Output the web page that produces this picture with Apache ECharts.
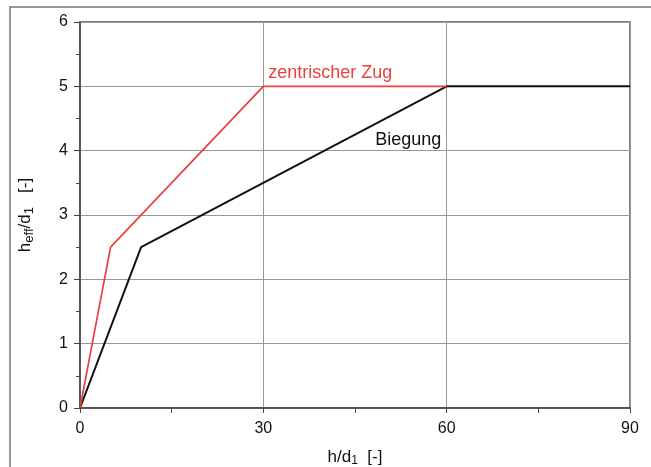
<!DOCTYPE html>
<html><head><meta charset="utf-8">
<script src="https://cdn.jsdelivr.net/npm/echarts@6/dist/echarts.min.js"></script>
<style>html,body{margin:0;padding:0;background:#fff}#c{width:651px;height:467px}</style>
</head><body><div id="c"></div>
<script>
var xTicks = [0, 30, 60, 90];
var yTicks = [0, 1, 2, 3, 4, 5, 6];
var zentrischX = [0, 5, 30, 60];
var zentrischY = [0, 2.5, 5, 5];
var biegungX = [0, 10, 60, 90];
var biegungY = [0, 2.5, 5, 5];
var labelZug = {name: 'zentrischer Zug', x: 30.8, y: 5.2};
var labelBieg = {name: 'Biegung', x: 48.3, y: 4.17};

function pairs(xs, ys){ return xs.map(function(v,i){return [v, ys[i]];}); }

var chart = echarts.init(document.getElementById('c'), null, {renderer:'canvas'});
var font = 'Liberation Sans, Arial, sans-serif';
chart.setOption({
  animation:false,
  graphic:[{type:'polyline', shape:{points:[[10,467],[10,7],[651,7]]}, style:{stroke:'#777', lineWidth:1.5, fill:null}}],
  grid:{left:80, right:21, top:22, bottom:59, show:true, borderColor:'#555', borderWidth:1.5, containLabel:false, outerBoundsMode:'none'},
  xAxis:{type:'value', min:xTicks[0], max:xTicks[xTicks.length-1], interval:30,
    axisLine:{show:true, onZero:false, lineStyle:{color:'#444', width:1.5}},
    axisTick:{show:true, inside:false, length:5, lineStyle:{color:'#444'}},
    minorTick:{show:true, splitNumber:2, length:5, lineStyle:{color:'#444'}},
    splitLine:{show:true, lineStyle:{color:'#999', width:1}},
    axisLabel:{color:'#111', fontSize:16, fontFamily:font, margin:13},
    name:'{a|h/d}{s|1}{a|  [-]}', nameLocation:'middle', nameGap:39,
    nameTextStyle:{rich:{a:{fontSize:17, fontFamily:font, color:'#111'}, s:{fontSize:12, fontFamily:font, color:'#111', padding:[8,0,0,0]}}}
  },
  yAxis:{type:'value', min:yTicks[0], max:yTicks[yTicks.length-1], interval:1,
    axisLine:{show:true, onZero:false, lineStyle:{color:'#444', width:1.5}},
    axisTick:{show:true, length:6, lineStyle:{color:'#444'}},
    minorTick:{show:true, splitNumber:2, length:4, lineStyle:{color:'#444'}},
    splitLine:{show:true, lineStyle:{color:'#999', width:1}},
    axisLabel:{color:'#111', fontSize:16, fontFamily:font, margin:12},
    name:'{a|h}{s|eff}{a|/d}{s|1}{a|   [-]}', nameLocation:'middle', nameGap:44, nameRotate:90,
    nameTextStyle:{rich:{a:{fontSize:17, fontFamily:font, color:'#111'}, s:{fontSize:13, fontFamily:font, color:'#111', padding:[8,0,0,0]}}}
  },
  series:[
    {type:'line', data:pairs(biegungX, biegungY), symbol:'none', lineStyle:{color:'#111', width:2}, z:3,
     markPoint:{symbol:'circle', symbolSize:0, data:[{coord:[labelBieg.x, labelBieg.y], value:labelBieg.name}],
       label:{show:true, position:'right', distance:0, formatter:labelBieg.name, color:'#111', fontSize:18, fontFamily:font}}},
    {type:'line', data:pairs(zentrischX, zentrischY), symbol:'none', lineStyle:{color:'#e8403f', width:1.7}, z:4,
     markPoint:{symbol:'circle', symbolSize:0, data:[{coord:[labelZug.x, labelZug.y], value:labelZug.name}],
       label:{show:true, position:'right', distance:0, formatter:labelZug.name, color:'#e8403f', fontSize:18, fontFamily:font}}}
  ]
});
</script></body></html>
